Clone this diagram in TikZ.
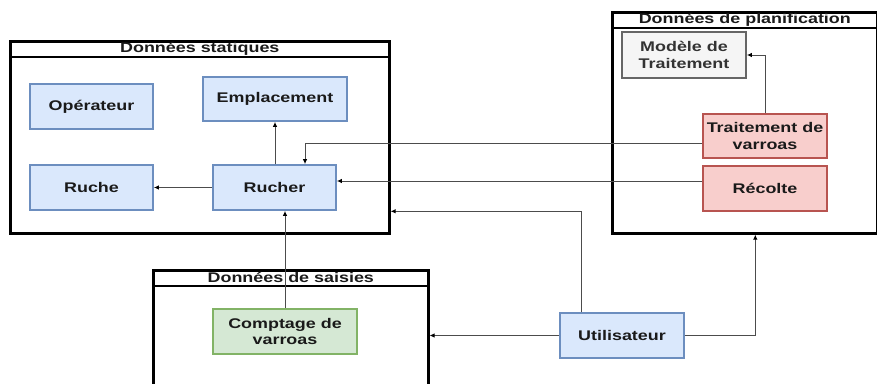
\documentclass[tikz,border=0pt]{standalone}
\usepackage{fontspec}
\setmainfont{Liberation Sans}[FakeStretch=1.28]
\usetikzlibrary{arrows.meta}
\definecolor{bfill}{HTML}{DAE8FC}\definecolor{bdraw}{HTML}{6C8EBF}
\definecolor{rfill}{HTML}{F8CECC}\definecolor{rdraw}{HTML}{B85450}
\definecolor{gfill}{HTML}{D5E8D4}\definecolor{gdraw}{HTML}{82B366}
\definecolor{hfill}{HTML}{F5F5F5}\definecolor{hdraw}{HTML}{666666}
\definecolor{txt}{HTML}{1A1A1A}
\begin{document}
\begin{tikzpicture}[x=1pt,y=-1pt,
  font=\bfseries\fontsize{14}{16.5}\selectfont,
  box/.style={draw, line width=1.8pt, minimum width=124pt, minimum height=45pt,
    align=center, inner sep=0pt, text=txt},
  bluebox/.style={box, draw=bdraw, fill=bfill},
  redbox/.style={box, draw=rdraw, fill=rfill},
  greenbox/.style={box, draw=gdraw, fill=gfill},
  greybox/.style={box, draw=hdraw, fill=hfill, text=black!80},
  cont/.style={draw=black, line width=2.6pt, anchor=north west, inner sep=0pt},
  bar/.style={draw=black, line width=1.8pt},
  ttl/.style={inner sep=0pt, text=txt},
  conn/.style={draw=black!70, line width=0.9pt, -{Latex[length=5pt,width=4.5pt,black]}}]
\useasboundingbox (0,0) rectangle (877,383);
\clip (0,0) rectangle (877,383);
\fill[white] (0,0) rectangle (877,383);

% containers
\node[cont, minimum width=379pt, minimum height=192pt] (stat) at (9,40) {};
\draw[bar] ([yshift=-17pt]stat.north west) -- ([yshift=-17pt]stat.north east);
\node[ttl] (statT) at ([yshift=-8.5pt]stat.north) {Données statiques};

\node[cont, minimum width=265pt, minimum height=221pt] (plan) at (611,11) {};
\draw[bar] ([yshift=-17pt]plan.north west) -- ([yshift=-17pt]plan.north east);
\node[ttl] (planT) at ([yshift=-8.5pt]plan.north) {Données de planification};

\node[cont, minimum width=275pt, minimum height=150pt] (sais) at (152,269) {};
\draw[bar] ([yshift=-17pt]sais.north west) -- ([yshift=-17pt]sais.north east);
\node[ttl] (saisT) at ([yshift=-8.5pt]sais.north) {Données de saisies};

% boxes
\node[bluebox, minimum width=123pt] (oper) at (91.5,106.5) {Opérateur};
\node[bluebox, minimum width=144pt, minimum height=44pt] (empl) at (275,99) {Emplacement};
\node[bluebox, minimum width=123pt] (ruche) at (91.5,187.5) {Ruche};
\node[bluebox, minimum width=123pt] (rucher) at (274.5,187.5) {Rucher};
\node[greybox, minimum height=46pt] (mod) at (684,55) {Modèle de\\Traitement};
\node[redbox, minimum height=44pt] (trait) at (765,136) {Traitement de\\varroas};
\node[redbox] (recol) at (765,188.5) {Récolte};
\node[greenbox, minimum width=144pt] (compt) at (285,331.5) {Comptage de\\varroas};
\node[bluebox] (util) at (622,335.5) {Utilisateur};

% connectors
\draw[conn] (rucher.north -| empl.south) -- (empl.south);
\draw[conn] (rucher.west) -- (ruche.east);
\draw[conn] (trait.north) |- (mod.east);
\draw[conn] ([yshift=-7.5pt]trait.west) -| ([xshift=30.5pt]rucher.north);
\draw[conn] ([yshift=7.5pt]recol.west) -- ([yshift=7.5pt]recol.west -| rucher.east);
\draw[conn] (compt.north) -- (compt.north |- rucher.south);
\draw[conn] ([xshift=-41pt]util.north) |- ([yshift=-74pt]stat.east);
\draw[conn] (util.west) -- (util.west -| sais.east);
\draw[conn] (util.east) -| ([xshift=10.5pt]plan.south);
\end{tikzpicture}
\end{document}
